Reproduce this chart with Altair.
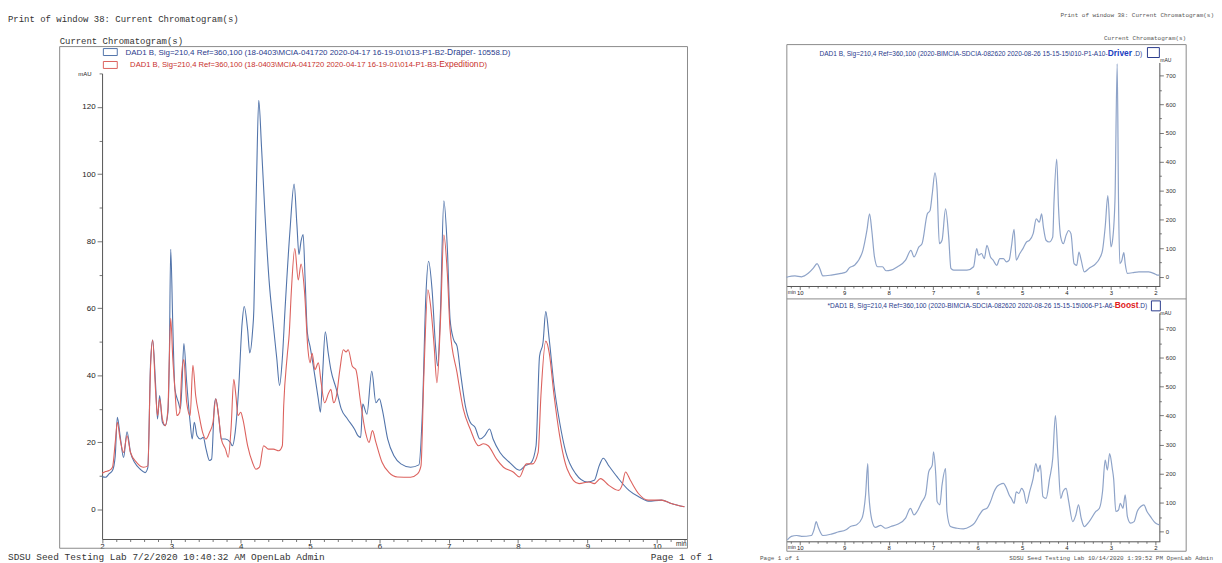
import altair as alt
import pandas as pd

# ---------------- data ----------------
draper_t = [2.00, 2.05, 2.10, 2.15, 2.19, 2.22, 2.26, 2.31, 2.36, 2.41, 2.47, 2.55, 2.62, 2.66, 2.70, 2.73,
            2.77, 2.80, 2.83, 2.87, 2.91, 2.95, 2.97, 2.99, 3.02, 3.05, 3.10, 3.13, 3.15, 3.18, 3.22, 3.27,
            3.30, 3.33, 3.37, 3.42, 3.46, 3.50, 3.55, 3.58, 3.62, 3.64, 3.68, 3.72, 3.78, 3.85, 3.88, 3.92,
            3.97, 4.02, 4.05, 4.10, 4.13, 4.17, 4.19, 4.21, 4.23, 4.26, 4.30, 4.35, 4.41, 4.47, 4.52, 4.56,
            4.60, 4.64, 4.71, 4.77, 4.81, 4.84, 4.87, 4.90, 4.93, 4.96, 5.00, 5.07, 5.12, 5.15, 5.18, 5.22,
            5.26, 5.30, 5.38, 5.45, 5.54, 5.64, 5.69, 5.73, 5.76, 5.82, 5.89, 5.95, 6.00, 6.04, 6.12, 6.21,
            6.31, 6.45, 6.57, 6.62, 6.67, 6.71, 6.76, 6.81, 6.84, 6.88, 6.93, 6.98, 7.02, 7.07, 7.12, 7.17,
            7.24, 7.31, 7.38, 7.45, 7.52, 7.59, 7.64, 7.74, 7.88, 8.02, 8.10, 8.19, 8.26, 8.31, 8.36, 8.40,
            8.45, 8.52, 8.60, 8.69, 8.83, 9.00, 9.10, 9.17, 9.23, 9.31, 9.43, 9.60, 9.74, 9.88, 10.07, 10.21,
            10.40]
draper_v = [9.8, 9.6, 10.6, 11.6, 16, 27.5, 22, 15.5, 23.2, 17, 14, 12, 11, 12.5, 44, 50.5,
            38, 27, 34, 26, 25, 29, 45, 77.6, 55, 36, 32, 30, 36, 49.5, 38, 26,
            21, 26, 22, 21, 21.5, 18, 14.6, 15, 31, 33, 28, 21, 21, 20, 19, 23,
            36, 55.5, 60.5, 53.5, 46.7, 53, 60, 80, 100, 122, 108, 88, 68, 55, 45, 37,
            45, 60, 83, 97, 85, 76, 80, 82, 68, 53, 48.6, 39.7, 32.8, 29, 40, 53,
            47, 41.7, 35.8, 30, 27, 24, 22, 21.5, 31.4, 28.4, 41.2, 31.8, 33, 30, 21, 16,
            13.6, 12.6, 13.3, 29, 63.5, 74, 65.5, 48.7, 42.8, 58.6, 92, 78, 56.6, 50.7, 48.7, 40.8,
            30.9, 26, 24.5, 21, 22, 24, 21, 17, 14, 11.7, 13, 14, 19, 45.7, 49.7, 59,
            50.7, 36.8, 26, 17, 10.7, 8.2, 8.7, 13, 15.3, 13, 9.7, 5.7, 3.8, 2.5, 2.8, 1.8,
            0.8]

expedition_t = [2.00, 2.05, 2.10, 2.15, 2.19, 2.22, 2.26, 2.31, 2.36, 2.41, 2.50, 2.60, 2.66, 2.70, 2.73, 2.77,
                2.80, 2.83, 2.87, 2.91, 2.95, 2.97, 2.99, 3.02, 3.05, 3.08, 3.12, 3.15, 3.18, 3.22, 3.27, 3.31,
                3.35, 3.40, 3.45, 3.50, 3.55, 3.60, 3.64, 3.68, 3.72, 3.78, 3.82, 3.86, 3.90, 3.93, 3.96, 4.00,
                4.03, 4.10, 4.17, 4.22, 4.27, 4.33, 4.40, 4.47, 4.55, 4.60, 4.62, 4.67, 4.70, 4.73, 4.78, 4.83,
                4.87, 4.92, 4.97, 5.00, 5.03, 5.07, 5.12, 5.16, 5.21, 5.27, 5.30, 5.34, 5.38, 5.43, 5.48, 5.52,
                5.55, 5.61, 5.66, 5.73, 5.80, 5.85, 5.90, 5.95, 6.04, 6.14, 6.26, 6.45, 6.55, 6.60, 6.64, 6.70,
                6.74, 6.79, 6.83, 6.88, 6.93, 6.98, 7.02, 7.12, 7.21, 7.31, 7.43, 7.50, 7.57, 7.69, 7.79, 7.93,
                8.02, 8.12, 8.21, 8.29, 8.33, 8.40, 8.45, 8.52, 8.60, 8.71, 8.88, 9.02, 9.10, 9.19, 9.31, 9.45,
                9.50, 9.55, 9.62, 9.74, 9.88, 10.07, 10.21, 10.40]
expedition_v = [10.8, 11.3, 11.6, 12.6, 20, 26, 21, 17, 22, 17, 14, 12.6, 13, 43, 50.5, 36,
                28, 33, 27, 25, 30, 45, 57, 45, 36, 28, 29, 41, 44.7, 32, 28, 43,
                34, 28, 23, 21, 23, 26, 33, 28, 21, 18, 15.6, 24, 38.8, 34, 28, 29,
                27, 19, 14, 12, 12.6, 19, 18, 18, 17.5, 19, 31, 45.7, 52.5, 65, 77.8, 68.4,
                73.2, 65, 47.6, 43.7, 46.6, 41.7, 43.7, 37.8, 31.8, 34.8, 35.8, 31.8, 33.8, 41.7, 47.6, 47,
                47.6, 42.7, 41.7, 31.8, 23, 20, 23.5, 20, 14, 11, 9.7, 9.6, 10.6, 13, 38.8, 65.5,
                60.5, 48.7, 37.8, 55.6, 81.8, 70.4, 53.6, 40.8, 30, 24, 19, 19.6, 19, 15, 12.6, 11.2,
                9.7, 13.6, 13.6, 17, 33.9, 50.2, 46.7, 33.9, 22, 12, 7.7, 8.2, 7.7, 9.2, 7.2, 5.7,
                7.2, 11.2, 8.7, 4.7, 2.8, 2.8, 1.8, 0.8]

driver_t = [1.91, 1.96, 2.00, 2.15, 2.37, 2.52, 2.63, 2.68, 2.71, 2.76, 2.80, 2.83, 2.86, 2.91, 2.97, 3.00,
            3.07, 3.13, 3.19, 3.26, 3.34, 3.49, 3.60, 3.67, 3.72, 3.77, 3.83, 3.90, 3.95, 4.01, 4.07, 4.13,
            4.18, 4.22, 4.28, 4.31, 4.39, 4.46, 4.52, 4.56, 4.61, 4.68, 4.75, 4.83, 4.90, 4.98, 5.05, 5.13,
            5.18, 5.24, 5.29, 5.35, 5.42, 5.50, 5.57, 5.65, 5.71, 5.79, 5.85, 5.91, 5.98, 6.02, 6.09, 6.24,
            6.39, 6.54, 6.60, 6.65, 6.72, 6.80, 6.86, 6.91, 6.96, 7.02, 7.07, 7.13, 7.25, 7.32, 7.43, 7.50,
            7.62, 7.80, 7.95, 8.06, 8.14, 8.25, 8.32, 8.38, 8.43, 8.49, 8.58, 8.77, 8.88, 8.96, 9.07, 9.29,
            9.48, 9.55, 9.61, 9.70, 9.81, 9.96, 10.11, 10.26, 10.30]
driver_v = [6, 6, 9, 17, 17, 14, 12, 46, 84, 55, 46, 265, 740, 265, 120, 104,
            282, 173, 92, 63, 46, 30, 17, 58, 86, 40, 46, 150, 161, 144, 115, 138,
            242, 409, 265, 138, 121, 127, 173, 219, 190, 201, 150, 127, 121, 98, 81, 58,
            165, 104, 58, 52, 63, 63, 40, 58, 69, 109, 63, 81, 75, 98, 35, 23,
            23, 23, 29, 138, 236, 127, 115, 300, 361, 288, 230, 219, 115, 104, 69, 92,
            58, 35, 23, 21, 35, 35, 69, 161, 219, 161, 92, 40, 32, 17, 12, 6,
            3, 29, 46, 29, 12, 0, 3, 0, -2]

boost_t = [1.91, 2.00, 2.11, 2.19, 2.26, 2.33, 2.41, 2.48, 2.56, 2.63, 2.68, 2.73, 2.79, 2.83, 2.89, 2.94,
           2.97, 3.03, 3.08, 3.13, 3.19, 3.26, 3.34, 3.49, 3.60, 3.67, 3.73, 3.79, 3.86, 3.95, 4.01, 4.08,
           4.13, 4.19, 4.25, 4.31, 4.38, 4.46, 4.53, 4.59, 4.64, 4.69, 4.75, 4.83, 4.90, 4.96, 5.01, 5.07,
           5.13, 5.18, 5.24, 5.29, 5.35, 5.42, 5.50, 5.57, 5.63, 5.71, 5.79, 5.88, 5.96, 6.07, 6.17, 6.32,
           6.46, 6.61, 6.69, 6.72, 6.80, 6.85, 6.91, 6.94, 6.99, 7.02, 7.10, 7.17, 7.25, 7.36, 7.43, 7.51,
           7.62, 7.80, 7.95, 8.07, 8.18, 8.30, 8.37, 8.45, 8.47, 8.52, 8.60, 8.72, 8.86, 8.96, 9.14, 9.29,
           9.48, 9.59, 9.63, 9.68, 9.74, 9.96, 10.07, 10.19, 10.28]
boost_v = [23, 29, 51, 69, 92, 86, 69, 34, 29, 51, 126, 80, 97, 74, 69, 183,
           217, 269, 212, 246, 137, 80, 69, 34, 17, 46, 92, 57, 34, 103, 149, 137,
           114, 252, 400, 252, 183, 114, 120, 229, 206, 234, 183, 137, 97, 137, 149, 131,
           137, 97, 114, 126, 149, 166, 162, 154, 137, 103, 80, 74, 57, 29, 17, 9,
           11, 17, 69, 217, 160, 92, 103, 194, 275, 229, 206, 126, 103, 69, 57, 80,
           46, 25, 17, 11, 21, 14, 34, 137, 234, 126, 46, 23, 17, 6, -2, -9,
           -14, 17, 34, 6, -14, -17, -14, -17, -29]

left_x_ticks = [round(2 + 0.2 * i, 1) for i in range(43)]
left_y_ticks = [0, 10, 20, 30, 40, 50, 60, 70, 80, 90, 100, 110, 120, 130]
right_x_ticks = [round(2 + 0.2 * i, 1) for i in range(42)]
right_y_ticks = [0, 50, 100, 150, 200, 250, 300, 350, 400, 450, 500, 550, 600, 650, 700]

samples = ["Draper", "Expedition"]

title_left = "Print of window 38: Current Chromatogram(s)"
subtitle = "Current Chromatogram(s)"
leg1_pre = "DAD1 B, Sig=210,4 Ref=360,100 (18-0403\\MCIA-041720 2020-04-17 16-19-01\\013-P1-B2-"
leg1_name = "Draper"
leg1_post = " - 10558.D)"
leg2_pre = "DAD1 B, Sig=210,4 Ref=360,100 (18-0403\\MCIA-041720 2020-04-17 16-19-01\\014-P1-B3-"
leg2_name = "Expedition"
leg2_post = "D)"
footer_left = "SDSU Seed Testing Lab 7/2/2020 10:40:32 AM OpenLab Admin"
page_txt = "Page    1 of 1"
legR1_pre = "DAD1 B, Sig=210,4 Ref=360,100 (2020-BIMCIA-SDCIA-082620 2020-08-26 15-15-15\\010-P1-A10-"
legR1_name = "Driver"
legR2_pre = "*DAD1 B, Sig=210,4 Ref=360,100 (2020-BIMCIA-SDCIA-082620 2020-08-26 15-15-15\\006-P1-A6-"
legR2_name = "Boost"
legR_post = ".D)"
footer_right = "SDSU Seed Testing Lab 10/14/2020 1:39:52 PM OpenLab Admin"

# ---------------- styling ----------------
W, H = 1214, 555
BLUE = "#5274aa"
RED = "#dc625e"
TRACE = "#8ea3c8"
TXT_BLUE = "#2a3b8c"
TXT_RED = "#c8302c"
AX = "#555555"
SANS = "Liberation Sans"
MONO = "Liberation Mono"

left_df = pd.concat([
    pd.DataFrame({"t": draper_t, "v": draper_v, "s": samples[0]}),
    pd.DataFrame({"t": expedition_t, "v": expedition_v, "s": samples[1]}),
])
driver_df = pd.DataFrame({"t": driver_t, "v": driver_v})
boost_df = pd.DataFrame({"t": boost_t, "v": boost_v})

one = alt.Data(values=[{}])

IS_INT = "abs(datum.value - round(datum.value)) < 0.01"


def tick_size(test, big, small):
    return {"condition": {"test": test, "value": big}, "value": small}


def xaxis(values, offset, size, big, small):
    return alt.Axis(orient="bottom", offset=offset, values=values, grid=False, title=None,
                    labelExpr=IS_INT + " ? format(round(datum.value), 'd') : ''",
                    tickSize=tick_size(IS_INT, big, small),
                    labelFontSize=size, labelFont=SANS, labelColor="#222", labelPadding=0,
                    labelFlush=False, labelOverlap=False, domainColor=AX, tickColor=AX,
                    domainWidth=1, tickWidth=0.8)


left_lines = alt.Chart(left_df).mark_line(interpolate="monotone", strokeWidth=1.1).encode(
    x=alt.X("t:Q", scale=alt.Scale(domain=[2, 10.43], range=[94.7, 683], nice=False, zero=False),
            axis=xaxis(left_x_ticks, -22.3, 8, 4, 2.5)),
    y=alt.Y("v:Q", scale=alt.Scale(domain=[-8.8, 130], range=[532.7, 64], nice=False, zero=False),
            axis=alt.Axis(orient="left", offset=-94.7, values=left_y_ticks, grid=False, title=None,
                          labelExpr="datum.value % 20 == 0 && datum.value <= 120 ? datum.label : ''",
                          tickSize=tick_size("datum.value % 20 == 0", 5, 3),
                          labelFontSize=8, labelFont=SANS, labelColor="#222", labelPadding=2,
                          labelFlush=False, labelOverlap=False, domainColor=AX, tickColor=AX,
                          tickWidth=0.8)),
    color=alt.Color("s:N", scale=alt.Scale(domain=samples, range=[BLUE, RED]), legend=None),
)


def right_trace(df, y_range, x_offset, y_domain):
    return alt.Chart(df).mark_line(interpolate="monotone", strokeWidth=1.2, color=TRACE).encode(
        x=alt.X("t:Q", scale=alt.Scale(domain=[1.9, 10.3], range=[1159.5, 783.6], nice=False, zero=False),
                axis=xaxis(right_x_ticks, x_offset, 6, 3.5, 2)),
        y=alt.Y("v:Q", scale=alt.Scale(domain=y_domain, range=y_range, nice=False, zero=False),
                axis=alt.Axis(orient="right", offset=-55, values=right_y_ticks, grid=False, title=None,
                              labelExpr="datum.value % 100 == 0 ? datum.label : ''",
                              tickSize=tick_size("datum.value % 100 == 0", 4, 2),
                              labelFontSize=6, labelFont=SANS, labelColor="#333", labelPadding=2,
                              labelFlush=False, labelOverlap=False, domainColor=AX, tickColor=AX,
                              tickWidth=0.8)),
    )


top_trace = right_trace(driver_df, [278, 53], -277, [-32, 745])
bottom_trace = right_trace(boost_df, [535, 305], -20, [-34, 755])


def txt(s, x, y, size, color="#333333", font=SANS, align="left", weight="normal"):
    return alt.Chart(one).mark_text(text=s, fontSize=size, font=font, color=color, align=align,
                                    baseline="middle", fontWeight=weight).encode(
        x=alt.value(x), y=alt.value(y))


def box(x, y, x2, y2, color, width=1.0):
    return alt.Chart(one).mark_rect(fillOpacity=0, stroke=color, strokeWidth=width).encode(
        x=alt.value(x), y=alt.value(y), x2=alt.value(x2), y2=alt.value(y2))


def hline(x, x2, y, color):
    return alt.Chart(one).mark_rule(color=color, strokeWidth=1).encode(
        x=alt.value(x), x2=alt.value(x2), y=alt.value(y))


layers = [
    # frames
    box(52, 37, 684, 542, "#8a8a8a"),
    box(784, 35, 1186, 545, "#8a8a8a"),
    hline(784, 1186, 291, "#8a8a8a"),
    # left page texts
    txt(title_left, 0, 9, 9, "#333333", MONO),
    txt(subtitle, 52, 31, 9, "#333333", MONO),
    box(96, 39, 110, 46, BLUE),
    box(96, 52, 110, 59, RED),
    txt(leg1_pre, 442, 43, 8, TXT_BLUE, align="right"),
    txt(leg1_name, 442, 42.5, 8.5, TXT_BLUE),
    txt(leg1_post, 468, 43, 8, TXT_BLUE),
    txt(leg2_pre, 434, 55.5, 7.7, TXT_RED, align="right"),
    txt(leg2_name, 434, 55, 8.5, TXT_RED),
    txt(leg2_post, 474, 55.5, 7.7, TXT_RED),
    txt("mAU", 84, 65, 6, "#222222", align="right"),
    txt("min", 683, 538, 6.5, "#222222", align="right"),
    txt(footer_left, 0, 551, 9.5, "#333333", MONO),
    txt(page_txt, 647, 551, 9.5, "#333333", MONO),
    # right page texts
    txt(title_left, 1214, 5, 6, "#555555", MONO, align="right"),
    txt(subtitle, 1186, 28, 6, "#555555", MONO, align="right"),
    box(1147, 38, 1159, 48, TXT_BLUE),
    txt(legR1_pre, 1107, 44, 6.6, TXT_BLUE, align="right"),
    txt(legR1_name, 1107, 43.5, 8.5, "#2040c0", weight="bold"),
    txt(legR_post, 1133, 44, 6.6, TXT_BLUE),
    box(1151, 293, 1160, 303, TXT_BLUE),
    txt(legR2_pre, 1114, 298, 6.6, TXT_BLUE, align="right"),
    txt(legR2_name, 1114, 297.5, 8.5, "#e02020", weight="bold"),
    txt(legR_post, 1138, 298, 6.6, TXT_BLUE),
    txt("mAU", 1160, 51, 5, "#222222"),
    txt("mAU", 1160, 305, 5, "#222222"),
    txt("min", 793, 284, 5, "#222222", align="right"),
    txt("min", 793, 541, 5, "#222222", align="right"),
    txt(page_txt, 757, 552, 6, "#555555", MONO),
    txt(footer_right, 1213, 552, 6, "#555555", MONO, align="right"),
    # data
    left_lines,
    top_trace,
    bottom_trace,
]

chart = alt.layer(*layers).resolve_scale(
    x="independent", y="independent", color="independent"
).properties(
    width=W, height=H, padding=0, autosize=alt.AutoSizeParams(type="none"), background="white"
).configure_view(stroke=None)

chart.save("out.html", embed_options={"renderer": "svg", "actions": False})
